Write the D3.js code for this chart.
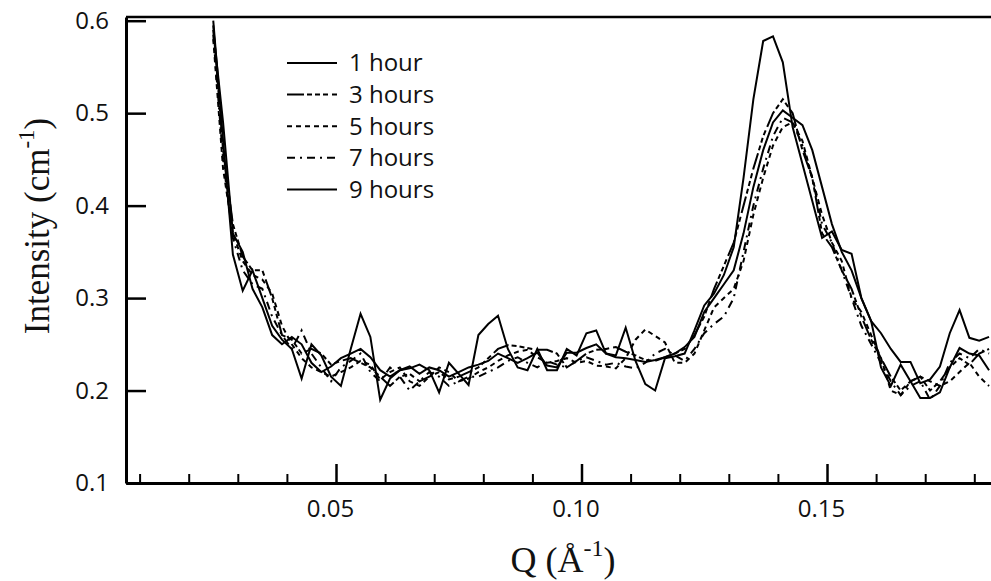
<!DOCTYPE html>
<html><head><meta charset="utf-8">
<script src="https://cdn.jsdelivr.net/npm/d3@7"></script>
<style>body{margin:0;background:#fff}svg{display:block}</style>
</head><body>
<svg id="c" width="991" height="581"></svg>
<script>
// Q values (Å^-1)
const qValues = [0.025,0.027,0.029,0.031,0.033,0.035,0.037,0.039,0.041,0.043,
  0.045,0.047,0.049,0.051,0.053,0.055,0.057,0.059,0.061,0.063,
  0.065,0.067,0.069,0.071,0.073,0.075,0.077,0.079,0.081,0.083,
  0.085,0.087,0.089,0.091,0.093,0.095,0.097,0.099,0.101,0.103,
  0.105,0.107,0.109,0.111,0.113,0.115,0.117,0.119,0.121,0.123,
  0.125,0.127,0.129,0.131,0.133,0.135,0.137,0.139,0.141,0.143,
  0.145,0.147,0.149,0.151,0.153,0.155,0.157,0.159,0.161,0.163,
  0.165,0.167,0.169,0.171,0.173,0.175,0.177,0.179,0.181,0.183];

const seriesNames = ["1 hour","3 hours","5 hours","7 hours","9 hours"];

const hour1 = [0.600,0.470,0.347,0.308,0.330,0.300,0.270,0.255,0.245,0.213,
  0.250,0.238,0.215,0.205,0.245,0.283,0.258,0.190,0.213,0.222,
  0.224,0.228,0.222,0.198,0.230,0.218,0.206,0.260,0.272,0.281,
  0.245,0.225,0.222,0.245,0.222,0.222,0.245,0.238,0.262,0.265,
  0.240,0.238,0.268,0.232,0.207,0.200,0.235,0.237,0.240,0.265,
  0.292,0.305,0.325,0.355,0.430,0.515,0.578,0.583,0.555,0.485,
  0.445,0.405,0.365,0.372,0.352,0.348,0.300,0.275,0.262,0.245,
  0.231,0.231,0.208,0.212,0.226,0.262,0.287,0.257,0.254,0.258];

const hour3 = [0.595,0.460,0.380,0.345,0.330,0.330,0.300,0.260,0.255,0.240,
  0.245,0.240,0.228,0.232,0.235,0.230,0.225,0.215,0.205,0.215,
  0.218,0.210,0.215,0.220,0.212,0.215,0.220,0.225,0.235,0.245,
  0.249,0.248,0.246,0.244,0.244,0.240,0.225,0.232,0.240,0.244,
  0.245,0.247,0.242,0.238,0.233,0.232,0.236,0.240,0.245,0.260,
  0.280,0.310,0.335,0.360,0.400,0.440,0.475,0.500,0.515,0.500,
  0.460,0.430,0.370,0.355,0.330,0.310,0.280,0.255,0.235,0.215,
  0.200,0.210,0.215,0.200,0.210,0.225,0.235,0.228,0.240,0.245];

const hour5 = [0.580,0.440,0.370,0.340,0.325,0.320,0.305,0.270,0.250,0.235,
  0.225,0.220,0.215,0.220,0.225,0.232,0.228,0.212,0.220,0.225,
  0.210,0.205,0.215,0.225,0.220,0.210,0.213,0.220,0.225,0.232,
  0.238,0.242,0.244,0.236,0.230,0.232,0.235,0.230,0.232,0.227,
  0.226,0.224,0.235,0.255,0.266,0.259,0.252,0.230,0.230,0.240,
  0.265,0.290,0.300,0.310,0.340,0.390,0.430,0.465,0.485,0.490,
  0.470,0.430,0.390,0.360,0.340,0.300,0.285,0.260,0.235,0.200,
  0.195,0.210,0.215,0.210,0.205,0.210,0.220,0.230,0.215,0.205];

const hour7 = [0.585,0.450,0.365,0.330,0.315,0.310,0.280,0.260,0.245,0.265,
  0.240,0.225,0.210,0.225,0.232,0.240,0.220,0.210,0.225,0.215,
  0.200,0.210,0.220,0.215,0.205,0.210,0.215,0.215,0.220,0.225,
  0.232,0.236,0.230,0.225,0.232,0.228,0.225,0.232,0.236,0.232,
  0.228,0.230,0.226,0.224,0.230,0.240,0.245,0.238,0.232,0.245,
  0.262,0.272,0.280,0.300,0.350,0.400,0.440,0.475,0.495,0.490,
  0.465,0.430,0.380,0.360,0.330,0.300,0.270,0.250,0.230,0.210,
  0.195,0.205,0.210,0.190,0.205,0.230,0.240,0.235,0.245,0.240];

const hour9 = [0.590,0.490,0.370,0.350,0.310,0.290,0.260,0.250,0.258,0.250,
  0.230,0.220,0.226,0.235,0.240,0.245,0.236,0.222,0.215,0.222,
  0.226,0.218,0.225,0.222,0.215,0.220,0.225,0.228,0.232,0.240,
  0.235,0.230,0.235,0.241,0.227,0.225,0.241,0.241,0.246,0.250,
  0.240,0.236,0.235,0.233,0.231,0.233,0.236,0.240,0.247,0.258,
  0.285,0.300,0.315,0.330,0.370,0.420,0.460,0.490,0.503,0.495,
  0.487,0.460,0.420,0.380,0.350,0.330,0.300,0.275,0.225,0.205,
  0.228,0.210,0.192,0.192,0.198,0.225,0.246,0.240,0.238,0.222];

const yTickValues = [0.1,0.2,0.3,0.4,0.5,0.6];
const yTickLabels = ["0.1","0.2","0.3","0.4","0.5","0.6"];
const xMajorTicks = [0.05,0.10,0.15];
const xTickLabels = ["0.05","0.10","0.15"];
const xMinorTicks = [0.01,0.02,0.03,0.04,0.06,0.07,0.08,0.09,0.11,0.12,0.13,0.14,0.16,0.17,0.18];

(function(){
const seriesValues = [hour1,hour3,hour5,hour7,hour9];
const dashes = [null,"17,3,5,3,5,3,5,4","5,4","8,5,2,5",null];

const svg = d3.select("#c");
const pL=126, pR=991, pT=17, pB=483;
const x = d3.scaleLinear().domain([0.00723,0.1834]).range([pL,pR]);
const y = d3.scaleLinear().domain([0.1,0.604]).range([pB,pT]);

const sansFont = "'Open Sans', 'Noto Sans', sans-serif";
const serifFont = "'Liberation Serif', 'DejaVu Serif', serif";

svg.append("defs").append("clipPath").attr("id","clip")
  .append("rect").attr("x",pL).attr("y",pT).attr("width",pR-pL).attr("height",pB-pT);

const line = d3.line().x((d,i)=>x(qValues[i])).y(d=>y(d));
const plot = svg.append("g").attr("clip-path","url(#clip)");
seriesValues.forEach((vals,k)=>{
  plot.append("path").datum(vals)
    .attr("d",line)
    .attr("fill","none")
    .attr("stroke","#000")
    .attr("stroke-width",2)
    .attr("stroke-dasharray",dashes[k])
    .attr("stroke-linejoin","miter");
});

svg.append("line").attr("x1",pL).attr("x2",pR).attr("y1",pT).attr("y2",pT)
  .attr("stroke","#000").attr("stroke-width",2.5);

const yAxis = svg.append("g").attr("transform",`translate(${pL},0)`)
  .call(d3.axisLeft(y).tickValues(yTickValues).tickSizeInner(-20).tickSizeOuter(0).tickPadding(17)
    .tickFormat((d,i)=>yTickLabels[i]));
yAxis.select(".domain").attr("stroke","#000").attr("stroke-width",3);
yAxis.selectAll(".tick line").attr("stroke","#000").attr("stroke-width",2.5);
yAxis.selectAll(".tick text").attr("font-family",sansFont).attr("font-size",24).attr("fill","#111");

const xMinor = svg.append("g").attr("transform",`translate(0,${pB})`)
  .call(d3.axisBottom(x).tickValues(xMinorTicks).tickSizeInner(-9).tickSizeOuter(0).tickFormat(""));
xMinor.select(".domain").remove();
xMinor.selectAll(".tick line").attr("stroke","#000").attr("stroke-width",2);

const xAxis = svg.append("g").attr("transform",`translate(0,${pB})`)
  .call(d3.axisBottom(x).tickValues(xMajorTicks).tickSizeInner(-19).tickSizeOuter(0).tickPadding(17)
    .tickFormat((d,i)=>xTickLabels[i]));
xAxis.select(".domain").attr("stroke","#000").attr("stroke-width",3);
xAxis.selectAll(".tick line").attr("stroke","#000").attr("stroke-width",2.5);
xAxis.selectAll(".tick text").attr("font-family",sansFont).attr("font-size",24).attr("fill","#111").attr("dx",-6);

const yt = svg.append("text").attr("transform","translate(49,226) rotate(-90)")
  .attr("text-anchor","middle").attr("font-family",serifFont).attr("font-size",35).attr("fill","#111");
yt.append("tspan").text("Intensity (cm");
yt.append("tspan").attr("dy",-15).attr("font-size",23).text("-1");
yt.append("tspan").attr("dy",15).text(")");

const xt = svg.append("text").attr("transform","translate(563,572)")
  .attr("text-anchor","middle").attr("font-family",serifFont).attr("font-size",36).attr("fill","#111");
xt.append("tspan").text("Q (Å");
xt.append("tspan").attr("dy",-16).attr("font-size",24).text("-1");
xt.append("tspan").attr("dy",16).text(")");

const lg = svg.append("g");
seriesNames.forEach((name,k)=>{
  const yy = 63 + k*31.6;
  lg.append("line").attr("x1",287).attr("x2",337).attr("y1",yy).attr("y2",yy)
    .attr("stroke","#000").attr("stroke-width",2).attr("stroke-dasharray",dashes[k]);
  lg.append("text").attr("x",349).attr("y",yy).attr("dy","0.35em")
    .attr("font-family",sansFont).attr("font-size",24).attr("fill","#111").text(name);
});
})();
</script>
</body></html>
